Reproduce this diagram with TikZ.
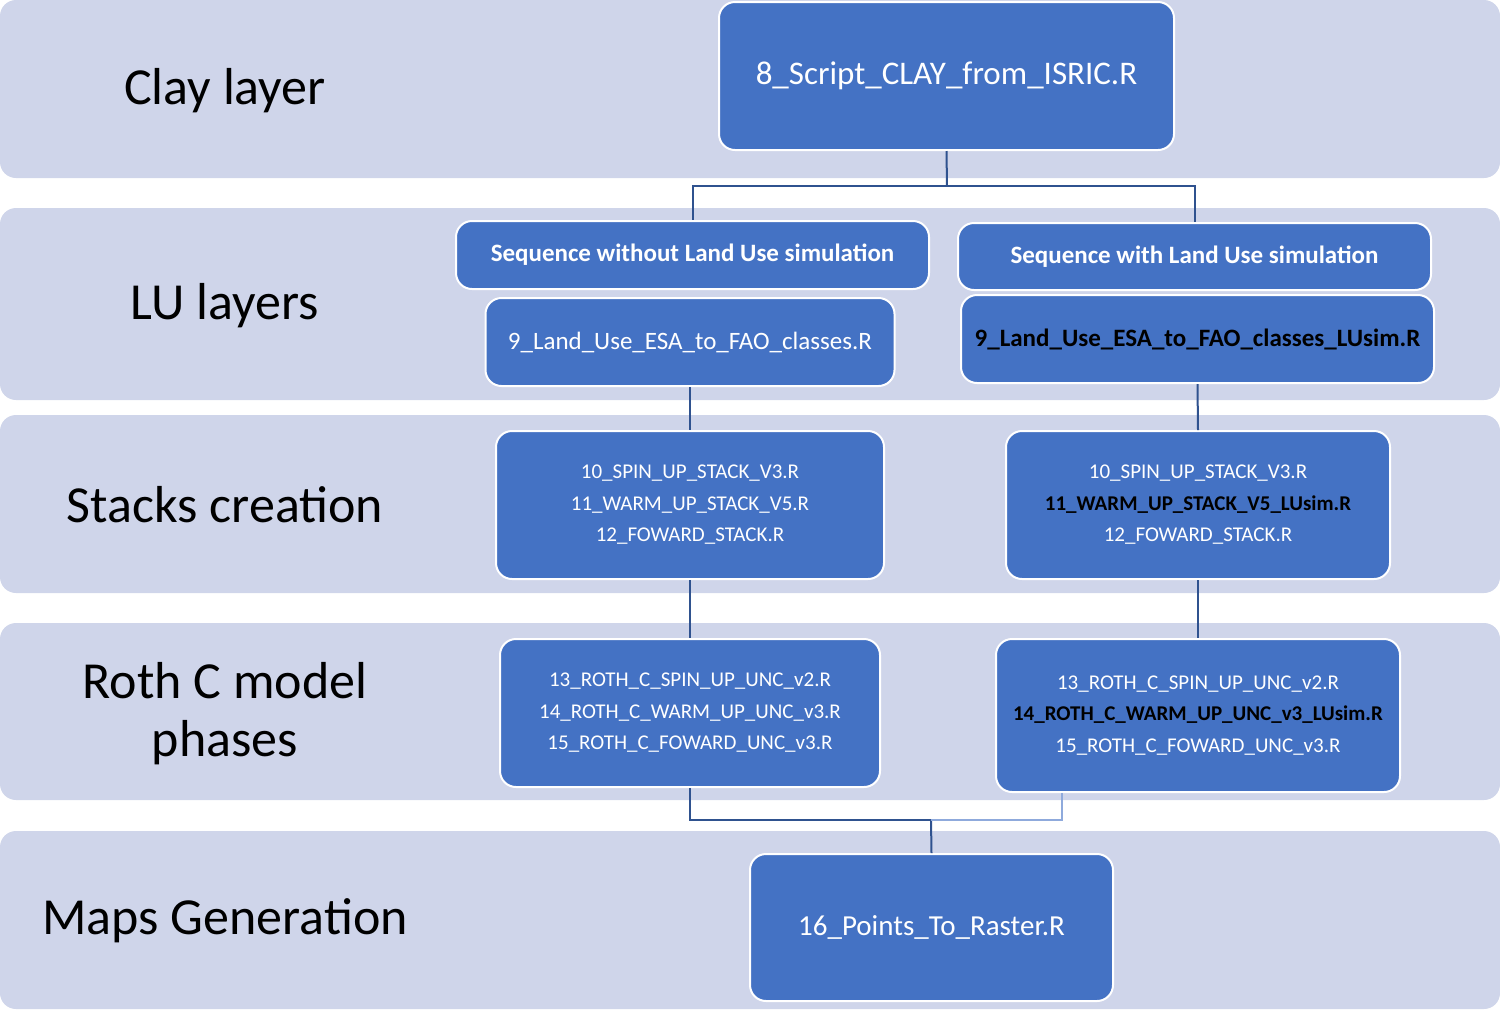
\documentclass[tikz,border=0pt]{standalone}
\usepackage{fontspec}
\setmainfont{Carlito}
\usetikzlibrary{positioning}

\definecolor{bandfill}{HTML}{CFD5EA}
\definecolor{boxfill}{HTML}{4472C4}
\definecolor{linkdark}{HTML}{2F528F}
\definecolor{linklight}{HTML}{8FAADC}

\begin{document}
\begin{tikzpicture} [
    x=0.5pt,
    y=-0.5pt,
    line width=1pt,
  ]

  \tikzstyle{band} = [
    rectangle,
    rounded corners=8pt,
    fill=bandfill,
    inner sep=0pt,
    minimum width=750pt,
  ]
  \tikzstyle{phase} = [
    font=\fontsize{26}{29}\selectfont,
    align=center,
    text=black,
  ]
  \tikzstyle{script} = [
    rectangle,
    rounded corners=8pt,
    fill=boxfill,
    draw=white,
    line width=1pt,
    text=white,
    align=center,
    inner sep=0pt,
  ]
  \tikzstyle{seq} = [
    script,
    font=\fontsize{12.5}{15}\selectfont\bfseries,
  ]
  \tikzstyle{multi} = [
    script,
    font=\fontsize{10.5}{15.75}\selectfont,
  ]
  \tikzstyle{link} = [
    draw=linkdark,
  ]

  \useasboundingbox (0,0) rectangle (1500,1009);

  % phase bands
  \node[band,minimum height=89pt]   (bclay)  at (750,89)    {};
  \node[band,minimum height=96pt]   (blu)    at (750,304)   {};
  \node[band,minimum height=89pt]   (bstack) at (750,504)   {};
  \node[band,minimum height=88.5pt] (broth)  at (750,711.5) {};
  \node[band,minimum height=89pt]   (bmaps)  at (750,920)   {};

  \node[phase] (lclay)  at (225,91)  {Clay layer};
  \node[phase] (llu)    at (225,306) {LU layers};
  \node[phase] (lstack) at (225,505) {Stacks creation};
  \node[phase] (lroth)  at (225,714) {Roth C model\\phases};
  \node[phase] (lmaps)  at (225,921) {Maps Generation};

  % scripts
  \node[script,font=\fontsize{16.5}{19}\selectfont,minimum width=227.5pt,minimum height=74pt]
    (clay) at (946.5,76) {8\_Script\_CLAY\_from\_ISRIC.R};

  \node[seq,minimum width=236.5pt,minimum height=34pt]
    (seql) at (692.5,255) {Sequence without Land Use simulation};
  \node[seq,minimum width=236.5pt,minimum height=33.5pt]
    (seqr) at (1194.5,256.5) {Sequence with Land Use simulation};

  \node[script,font=\fontsize{12.5}{15}\selectfont,minimum width=204.5pt,minimum height=44pt]
    (lul) at (690,342) {9\_Land\_Use\_ESA\_to\_FAO\_classes.R};
  \node[script,font=\fontsize{12.5}{15}\selectfont\bfseries,text=black,minimum width=236.5pt,minimum height=44pt]
    (lur) at (1197.5,339) {9\_Land\_Use\_ESA\_to\_FAO\_classes\_LUsim.R};

  \node[multi,minimum width=194pt,minimum height=74pt]
    (stackl) at (690,505) {10\_SPIN\_UP\_STACK\_V3.R\\11\_WARM\_UP\_STACK\_V5.R\\12\_FOWARD\_STACK.R};
  \node[multi,minimum width=192pt,minimum height=74pt]
    (stackr) at (1198,505) {10\_SPIN\_UP\_STACK\_V3.R\\
      \textcolor{black}{\bfseries 11\_WARM\_UP\_STACK\_V5\_LUsim.R}\\12\_FOWARD\_STACK.R};

  \node[multi,minimum width=190pt,minimum height=74pt]
    (rothl) at (690,713) {13\_ROTH\_C\_SPIN\_UP\_UNC\_v2.R\\14\_ROTH\_C\_WARM\_UP\_UNC\_v3.R\\15\_ROTH\_C\_FOWARD\_UNC\_v3.R};
  \node[multi,minimum width=202pt,minimum height=76.5pt]
    (rothr) at (1198,715.5) {13\_ROTH\_C\_SPIN\_UP\_UNC\_v2.R\\
      \textcolor{black}{\bfseries 14\_ROTH\_C\_WARM\_UP\_UNC\_v3\_LUsim.R}\\15\_ROTH\_C\_FOWARD\_UNC\_v3.R};

  \node[script,font=\fontsize{14.5}{17}\selectfont,minimum width=181.5pt,minimum height=73.5pt]
    (points) at (931.5,927.5) {16\_Points\_To\_Raster.R};

  % connectors
  \coordinate (split) at (947,186);
  \coordinate (merge) at (931,820);
  \coordinate (rothrfoot) at (1062,820);

  \draw[link] (clay.south) -- (split);
  \draw[link] (split) -| (seql.north);
  \draw[link] (split) -| (seqr.north);
  \draw[link] (lul.south) -- (stackl.north);
  \draw[link] (lur.south) -- (stackr.north);
  \draw[link] (stackl.south) -- (rothl.north);
  \draw[link] (stackr.south) -- (rothr.north);
  \draw[link] (rothl.south) |- (merge);
  \draw[link] (merge) -- (points.north);
  \draw[link,draw=linklight] (rothrfoot |- rothr.south) -- (rothrfoot) -- (merge);

\end{tikzpicture}
\end{document}
